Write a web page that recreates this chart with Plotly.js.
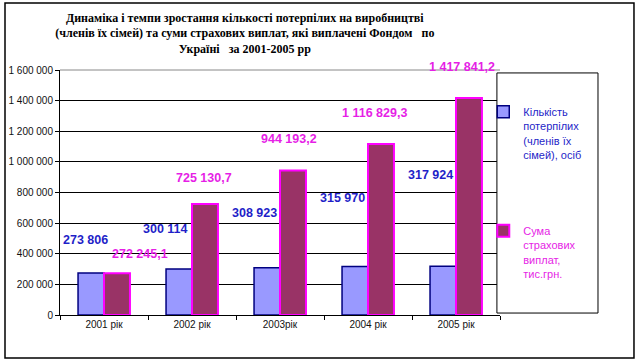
<!DOCTYPE html>
<html>
<head>
<meta charset="utf-8">
<script src="https://cdn.plot.ly/plotly-3.0.1.min.js"></script>
<style>html,body{margin:0;padding:0;background:#fff;}#chart{width:640px;height:363px;}</style>
</head>
<body>
<div id="chart"></div>
<script>
// ---- data ----
var years = ['2001 рік', '2002 рік', '2003рік', '2004 рік', '2005 рік'];
var victims = [273806, 300114, 308923, 315970, 317924];
var payments = [272245.1, 725130.7, 944193.2, 1116829.3, 1417841.2];
var seriesNames = ['Кількість<br>потерпілих<br>(членів їх<br>сімей), осіб', 'Сума<br>страхових<br>виплат,<br>тис.грн.'];
var yTicks = [0, 200000, 400000, 600000, 800000, 1000000, 1200000, 1400000, 1600000];

// ---- label placement (pixel offsets, style only) ----
var victimShift = [[-19, 33], [-27, 40], [-26, 55], [-26, 69], [-26, 91]];
var paymentShift = [[36, 19], [12, 26], [9, 31], [6, 31], [6, 31]];

function fmt(v, dec) {
  var s = v.toFixed(dec);
  var parts = s.split('.');
  var ip = parts[0].replace(/\B(?=(\d{3})+(?!\d))/g, ' ');
  return parts.length > 1 ? ip + ',' + parts[1] : ip;
}

var BLUE_TXT = '#1f1fc8';
var MAG_TXT = '#e61ee6';

var traces = [
  {
    type: 'bar', x: years, y: victims, name: seriesNames[0],
    marker: {color: '#9999ff', line: {color: '#000080', width: 1.5}},
    legend: 'legend', hoverinfo: 'x+y'
  },
  {
    type: 'bar', x: years, y: payments, name: seriesNames[1],
    marker: {color: '#993366', line: {color: '#ff00ff', width: 2}},
    legend: 'legend2', hoverinfo: 'x+y'
  }
];

var annotations = [];
years.forEach(function (c, i) {
  annotations.push({
    x: c, y: victims[i], xref: 'x', yref: 'y', text: fmt(victims[i], 0),
    showarrow: false, xshift: victimShift[i][0], yshift: victimShift[i][1],
    font: {family: 'Liberation Sans, Arial, sans-serif', size: 12.5, color: BLUE_TXT, weight: 'bold'}
  });
  annotations.push({
    x: c, y: payments[i], xref: 'x', yref: 'y', text: fmt(payments[i], 1),
    showarrow: false, xshift: paymentShift[i][0], yshift: paymentShift[i][1],
    font: {family: 'Liberation Sans, Arial, sans-serif', size: 12.5, color: MAG_TXT, weight: 'bold'}
  });
});

var layout = {
  width: 640, height: 363,
  margin: {l: 60, r: 140, t: 70, b: 48},
  paper_bgcolor: '#ffffff', plot_bgcolor: '#ffffff',
  separators: ', ',
  showlegend: true,
  title: {
    text: '<b>Динаміка і темпи зростання кількості потерпілих на виробництві<br>(членів їх сімей) та суми страхових виплат, які виплачені Фондом   по<br>Україні   за 2001-2005 рр</b>',
    font: {family: 'Liberation Serif, Times New Roman, serif', size: 12, color: '#000'},
    xref: 'paper', x: 0.42, xanchor: 'center',
    yref: 'container', y: 0.94, yanchor: 'top'
  },
  barmode: 'group', bargap: 0.41, bargroupgap: 0,
  xaxis: {
    type: 'category', showgrid: false, showline: true, linecolor: '#000', linewidth: 1,
    ticks: 'outside', tickson: 'boundaries', ticklen: 4, tickcolor: '#000',
    tickfont: {family: 'Liberation Sans, Arial, sans-serif', size: 10, color: '#111'},
    fixedrange: true
  },
  yaxis: {
    range: [0, 1600000], tickvals: yTicks, tickformat: ',d',
    showgrid: true, gridcolor: '#000', gridwidth: 1,
    showline: true, linecolor: '#000', linewidth: 1, zeroline: false,
    ticks: 'outside', ticklen: 4, tickcolor: '#000',
    tickfont: {family: 'Liberation Sans, Arial, sans-serif', size: 10, color: '#111'},
    fixedrange: true
  },
  legend: {
    x: 0.962, xanchor: 'left', y: 0.885, yanchor: 'top',
    bgcolor: 'rgba(0,0,0,0)', borderwidth: 0, valign: 'top',
    font: {family: 'Liberation Sans, Arial, sans-serif', size: 11, color: BLUE_TXT}
  },
  legend2: {
    x: 0.962, xanchor: 'left', y: 0.40, yanchor: 'top',
    bgcolor: 'rgba(0,0,0,0)', borderwidth: 0, valign: 'top',
    font: {family: 'Liberation Sans, Arial, sans-serif', size: 11, color: MAG_TXT}
  },
  shapes: [
    {type: 'rect', xref: 'paper', yref: 'paper', x0: -0.125, x1: 1.3045, y0: -0.1755, y1: 1.2735,
     line: {color: '#000', width: 1.5}, fillcolor: 'rgba(0,0,0,0)', layer: 'below'},
    {type: 'line', xref: 'paper', yref: 'paper', x0: 0, x1: 1, y0: 1, y1: 1,
     line: {color: '#888', width: 1}, layer: 'above'},
    {type: 'rect', xref: 'paper', yref: 'paper', x0: 0.993, x1: 1.2227, y0: 0.008, y1: 0.988,
     line: {color: '#000', width: 1}, fillcolor: '#ffffff', layer: 'above'}
  ],
  annotations: annotations
};

Plotly.newPlot('chart', traces, layout, {staticPlot: true, displayModeBar: false});
</script>
</body>
</html>
